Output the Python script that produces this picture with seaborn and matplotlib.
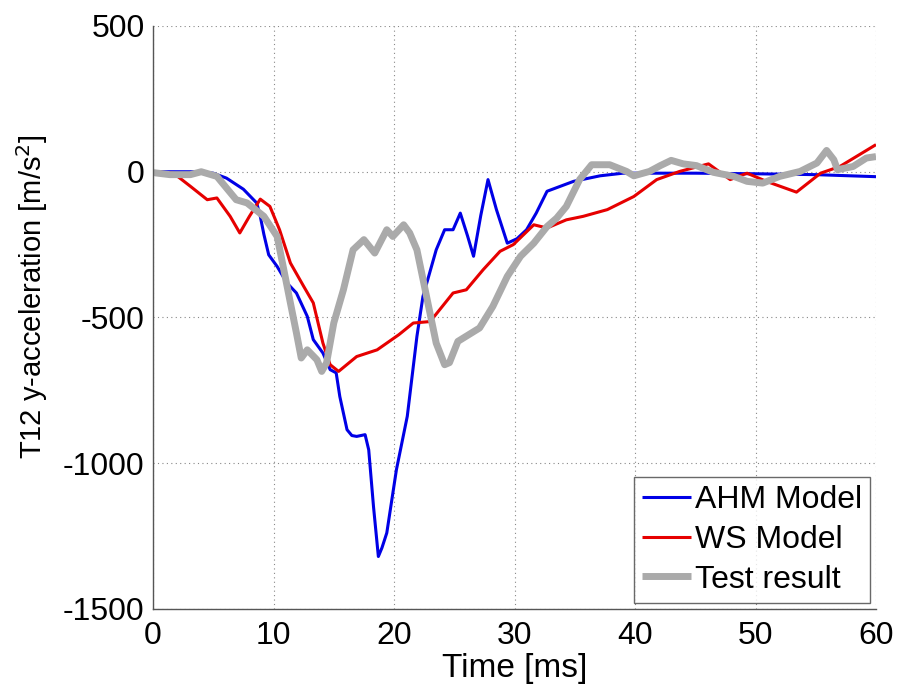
import numpy as np
import pandas as pd
import seaborn as sns
import matplotlib
matplotlib.use("Agg")
import matplotlib.pyplot as plt

# Data (time in ms, acceleration in m/s^2)
ahm_t = [0, 4, 5, 6.1, 7.5, 8.6, 8.9, 9.2, 9.6, 10.3, 11.1, 11.9, 12.8, 13.3, 14.1, 14.7,
         15.2, 15.5, 16.1, 16.5, 16.9, 17.6, 17.9, 18.3, 18.7, 19.0, 19.4, 20.2, 21.1,
         21.9, 22.4, 23.5, 24.2, 24.9, 25.5, 26.1, 26.6, 27.2, 27.8, 28.5, 29.4, 30.2,
         31.0, 31.8, 32.7, 34.9, 37.1, 39.0, 45, 50, 55, 60]
ahm_v = [0, 0, -5, -22, -60, -107, -153, -215, -285, -325, -381, -416, -496, -576, -622,
         -679, -690, -771, -885, -905, -908, -902, -954, -1150, -1320, -1290, -1239,
         -1022, -839, -565, -428, -268, -199, -199, -142, -220, -290, -150, -27, -130,
         -245, -230, -199, -142, -67, -33, -14, -5, -5, -7, -10, -17]

ws_t = [0, 1.7, 3.1, 4.5, 5.3, 6.4, 7.2, 8.0, 8.9, 9.7, 10.5, 11.4, 12.5, 13.3, 14.1,
        14.7, 15.4, 16.9, 18.6, 20.4, 21.6, 23.0, 24.9, 26.0, 27.4, 28.8, 29.9, 31.6,
        32.7, 34.3, 35.7, 37.7, 39.9, 41.8, 43.7, 46.1, 47.9, 49.3, 50.9, 53.4, 55.4,
        57.0, 60]
ws_v = [0, -5, -50, -96, -90, -153, -210, -153, -94, -119, -199, -313, -393, -450, -588,
        -662, -685, -634, -611, -559, -519, -514, -416, -405, -336, -273, -250, -182,
        -193, -165, -153, -130, -85, -27, 1, 27, -27, -5, -33, -70, -5,
        18, 93]

test_t = [0, 1.4, 3.1, 4.0, 5.3, 6.9, 7.8, 9.2, 10.3, 10.8, 11.4, 11.9, 12.3, 12.8, 13.6,
          14.0, 14.4, 15.0, 15.8, 16.6, 17.5, 18.4, 19.4, 19.9, 20.8, 21.3, 21.9, 22.7,
          23.5, 24.2, 24.6, 25.3, 27.1, 28.2, 29.4, 30.5, 31.6, 32.7, 33.5, 34.3, 35.4,
          36.4, 37.9, 39.3, 39.9, 41.2, 42.1, 43.0, 44.0, 45.1, 46.5, 48.2, 49.3, 50.6,
          52.0, 53.7, 55.1, 55.9, 56.5, 56.8, 58.1, 59.2, 60]
test_v = [-3, -10, -10, 0, -16, -96, -107, -153, -222, -325, -450, -553, -639, -611, -645,
          -685, -656, -519, -405, -268, -233, -279, -199, -222, -182, -210, -268, -428,
          -588, -662, -655, -582, -536, -462, -359, -290, -245, -188, -159, -119, -27,
          24, 24, 1, -14, 1, 21, 39, 27, 21, -2, -16, -33, -39,
          -16, 1, 30, 73, 41, 7, 18, 47, 52]

sns.set_style("white")
plt.rcParams["font.family"] = ["Liberation Sans", "DejaVu Sans"]
plt.rcParams["axes.unicode_minus"] = False
plt.rcParams["text.color"] = "black"
plt.rcParams["axes.labelcolor"] = "black"
plt.rcParams["xtick.labelcolor"] = "black"
plt.rcParams["ytick.labelcolor"] = "black"

fig = plt.figure(figsize=(8.97, 6.91), dpi=100)
ax = fig.add_axes([0.1706, 0.1187, 0.806, 0.8437])

# Plot all series
line_kw = dict(solid_joinstyle="round", solid_capstyle="butt")
sns.lineplot(x=ahm_t, y=ahm_v, color="#0000e6", linewidth=2.2, label="AHM Model", ax=ax, **line_kw)
sns.lineplot(x=ws_t, y=ws_v, color="#e60000", linewidth=2.2, label="WS Model", ax=ax, **line_kw)
sns.lineplot(x=test_t, y=test_v, color="#aaaaaa", linewidth=5, label="Test result", ax=ax, **line_kw)

ax.set_xlim(0, 60)
ax.set_ylim(-1500, 500)
ax.set_xticks(np.arange(0, 61, 10))
ax.set_yticks(np.arange(-1500, 501, 500))

# MATLAB-like look: dotted grid, inward ticks, box off
ax.grid(True, linestyle=(0, (1, 3)), color="#888888", linewidth=0.8)
for s in ["top", "right"]:
    ax.spines[s].set_visible(False)
for s in ["left", "bottom"]:
    ax.spines[s].set_color("#555555")
    ax.spines[s].set_linewidth(1.0)
ax.tick_params(direction="in", length=5, width=0.8, color="#555555",
               labelsize=23, pad=6)
ax.tick_params(axis="x", pad=9)

ax.set_xlabel("Time [ms]", fontsize=24, labelpad=1)
ax.set_ylabel("T12 y-acceleration [m/s$^2$]", fontsize=21)
ax.yaxis.set_label_coords(-0.142, 0.535)

leg = ax.legend(loc="lower right", fontsize=23, frameon=True, fancybox=False,
                handlelength=1.55, handletextpad=0.1, labelspacing=0.3,
                borderpad=0.25, borderaxespad=0.2)
leg.get_frame().set_edgecolor("#444444")
leg.get_frame().set_linewidth(1.0)

fig.savefig("out.png", dpi=100)
